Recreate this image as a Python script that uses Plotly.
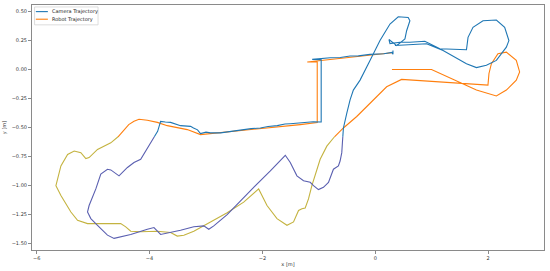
import plotly.graph_objects as go

# camera trajectory (x, y in metres)
cam_x = [0.313, 0.313, 0.296, 0.150, -0.094, -0.300, -0.447, -0.620, -0.800, -1.000, -1.118,
         -0.959, -0.962, -0.955, -0.960, -0.957, -0.959,
         -1.100, -1.330, -1.507, -1.600, -1.737, -1.900, -2.037, -2.200, -2.337, -2.450, -2.567,
         -2.744, -2.920, -3.000, -3.097, -3.150, -3.221, -3.274, -3.451, -3.540, -3.627, -3.720, -3.804,
         -3.857, -3.981, -4.157, -4.276, -4.392, -4.541, -4.687, -4.746, -4.864, -4.952, -5.071,
         -5.099, -5.041, -4.922, -4.746, -4.629, -4.334, -4.039, -3.922, -3.804, -3.627, -3.451,
         -3.216, -3.039, -2.951, -2.862, -2.625, -2.390, -2.155, -1.860, -1.595, -1.507, -1.389,
         -1.272, -1.154, -1.095, -1.007, -0.919, -0.830, -0.742, -0.654, -0.624, -0.594, -0.583,
         -0.565, -0.505, -0.447, -0.389, -0.270, -0.094, 0.083, 0.260, 0.406, 0.583, 0.613, 0.555,
         0.525, 0.378, 0.242, 0.260, 0.436, 0.613, 0.878, 1.143, 1.400, 1.615, 1.643, 1.731, 1.908,
         2.145, 2.292, 2.367, 2.322, 2.145, 1.968, 1.792, 1.615, 1.201, 0.908, 0.613, 0.348]
cam_y = [0.165, 0.131, 0.148, 0.136, 0.131, 0.118, 0.117, 0.104, 0.102, 0.092, 0.088,
         0.084, -0.050, -0.150, -0.262, -0.380, -0.452,
         -0.450, -0.456, -0.467, -0.470, -0.484, -0.492, -0.504, -0.510, -0.518, -0.525, -0.533,
         -0.546, -0.546, -0.540, -0.552, -0.520, -0.504, -0.490, -0.484, -0.470, -0.456, -0.452, -0.447,
         -0.533, -0.632, -0.774, -0.802, -0.845, -0.917, -0.866, -0.860, -0.902, -1.030, -1.173,
         -1.229, -1.286, -1.344, -1.429, -1.457, -1.423, -1.378, -1.363, -1.423, -1.406, -1.386,
         -1.357, -1.349, -1.378, -1.349, -1.252, -1.130, -1.016, -0.874, -0.740, -0.802, -0.917,
         -0.959, -0.973, -1.002, -1.036, -1.016, -0.973, -0.860, -0.831, -0.789, -0.717, -0.632,
         -0.504, -0.376, -0.262, -0.177, -0.091, 0.079, 0.250, 0.393, 0.455, 0.449, 0.421, 0.335,
         0.265, 0.207, 0.259, 0.224, 0.236, 0.236, 0.244, 0.179, 0.175, 0.171, 0.278, 0.364, 0.421,
         0.427, 0.364, 0.250, 0.193, 0.079, 0.037, 0.017, 0.051, 0.165, 0.222, 0.213, 0.207]

# robot trajectory (x, y in metres)
rob_x = [0.296, -1.206, -1.029, -1.029, -1.330, -2.337, -2.802, -3.097, -3.332, -3.686, -3.862,
         -4.039, -4.187, -4.276, -4.369, -4.511, -4.687, -4.922, -5.071, -5.129, -5.217, -5.336,
         -5.452, -5.571, -5.659, -5.571, -5.394, -5.276, -5.099, -4.922, -4.511, -4.422, -4.334,
         -4.157, -3.862, -3.627, -3.509, -3.392, -3.216, -2.920, -2.625, -2.332, -2.067, -1.919,
         -1.742, -1.565, -1.449, -1.360, -1.300, -1.242, -1.184, -1.124, -1.065, -0.977, -0.859,
         -0.742, -0.565, -0.329, -0.094, 0.083, 0.201, 0.466, 1.996, 2.014, 2.057, 2.173, 2.322,
         2.498, 2.557, 2.498, 2.322, 2.145, 1.968, 1.792, 0.996, 0.295]
rob_y = [0.145, 0.065, 0.067, -0.458, -0.475, -0.527, -0.552, -0.561, -0.518, -0.484, -0.456,
         -0.437, -0.429, -0.447, -0.475, -0.561, -0.632, -0.689, -0.760, -0.768, -0.717, -0.703,
         -0.732, -0.831, -1.002, -1.087, -1.229, -1.301, -1.329, -1.329, -1.329, -1.357, -1.395,
         -1.400, -1.395, -1.406, -1.437, -1.429, -1.395, -1.315, -1.235, -1.144, -1.030, -1.173,
         -1.286, -1.344, -1.315, -1.216, -1.201, -1.195, -1.116, -1.002, -0.917, -0.774, -0.661,
         -0.589, -0.504, -0.405, -0.290, -0.205, -0.149, -0.085, -0.134, -0.034, 0.051, 0.137, 0.150,
         0.079, -0.020, -0.091, -0.177, -0.228, -0.205, -0.177, 0.000, 0.000]

x_ticks = [-6, -4, -2, 0, 2]
y_ticks = [0.5, 0.25, 0.0, -0.25, -0.5, -0.75, -1.0, -1.25, -1.5]

split_y = -0.58  # the lines change tint below this height in the original

cam_top, cam_low = "#1f77b4", "#5a5fb0"
rob_top, rob_low = "#ff7f0e", "#c4b340"
font = "DejaVu Sans, sans-serif"


def split_path(xs, ys, thr):
    # two x/y lists (above / below thr), gaps marked with None, boundary points interpolated
    up_x, up_y, lo_x, lo_y = [], [], [], []
    for i in range(len(xs)):
        if i > 0 and (ys[i - 1] >= thr) != (ys[i] >= thr):
            t = (thr - ys[i - 1]) / (ys[i] - ys[i - 1])
            bx = xs[i - 1] + t * (xs[i] - xs[i - 1])
            if ys[i] >= thr:
                lo_x += [bx, None]; lo_y += [thr, None]
                up_x.append(bx); up_y.append(thr)
            else:
                up_x += [bx, None]; up_y += [thr, None]
                lo_x.append(bx); lo_y.append(thr)
        if ys[i] >= thr:
            up_x.append(xs[i]); up_y.append(ys[i])
        else:
            lo_x.append(xs[i]); lo_y.append(ys[i])
    return up_x, up_y, lo_x, lo_y


fig = go.Figure()

for xs, ys, c_up, c_lo, name in [(rob_x, rob_y, rob_top, rob_low, "Robot Trajectory"),
                                 (cam_x, cam_y, cam_top, cam_low, "Camera Trajectory")]:
    ux, uy, lx, ly = split_path(xs, ys, split_y)
    fig.add_trace(go.Scatter(x=ux, y=uy, mode="lines", line=dict(color=c_up, width=1.1),
                             name=name, showlegend=False))
    fig.add_trace(go.Scatter(x=lx, y=ly, mode="lines", line=dict(color=c_lo, width=1.1),
                             name=name, showlegend=False))

# small matplotlib-like legend box
fig.add_shape(type="rect", xref="paper", yref="paper", x0=0.005, x1=0.129, y0=0.919, y1=0.992,
              line=dict(color="#d4d4d4", width=0.8), fillcolor="rgba(255,255,255,0.8)")
for yy, col, label in [(0.973, cam_top, "Camera Trajectory"), (0.942, rob_top, "Robot Trajectory")]:
    fig.add_shape(type="line", xref="paper", yref="paper", x0=0.0075, x1=0.031, y0=yy, y1=yy,
                  line=dict(color=col, width=1.1))
    fig.add_annotation(xref="paper", yref="paper", x=0.036, y=yy, text=label, showarrow=False,
                       xanchor="left", yanchor="middle", font=dict(family=font, size=5, color="#222"))

axis_style = dict(
    showline=True,
    mirror=True,
    linecolor="#8a8a8a",
    linewidth=1,
    ticks="outside",
    ticklen=3,
    tickwidth=0.8,
    tickcolor="#8a8a8a",
    showgrid=False,
    zeroline=False,
    tickfont=dict(family=font, size=5, color="#333"),
)
fig.update_xaxes(range=[-6.083, 2.989], tickvals=x_ticks, title_text="x [m]",
                 title_font=dict(family=font, size=5, color="#333"), title_standoff=2, **axis_style)
fig.update_yaxes(range=[-1.557, 0.557], tickvals=y_ticks, tickformat=".2f", title_text="y [m]",
                 title_font=dict(family=font, size=5, color="#333"), title_standoff=4, **axis_style)
fig.update_layout(
    width=550,
    height=271,
    margin=dict(l=31, r=6, t=4, b=19),
    plot_bgcolor="white",
    paper_bgcolor="white",
    showlegend=False,
    font=dict(family=font, size=5),
)
# drop the page's default body margin so the figure sits at the window's corner
fig.write_html("out.html", config={"displayModeBar": False},
               post_script="document.body.style.margin = '0px';")
